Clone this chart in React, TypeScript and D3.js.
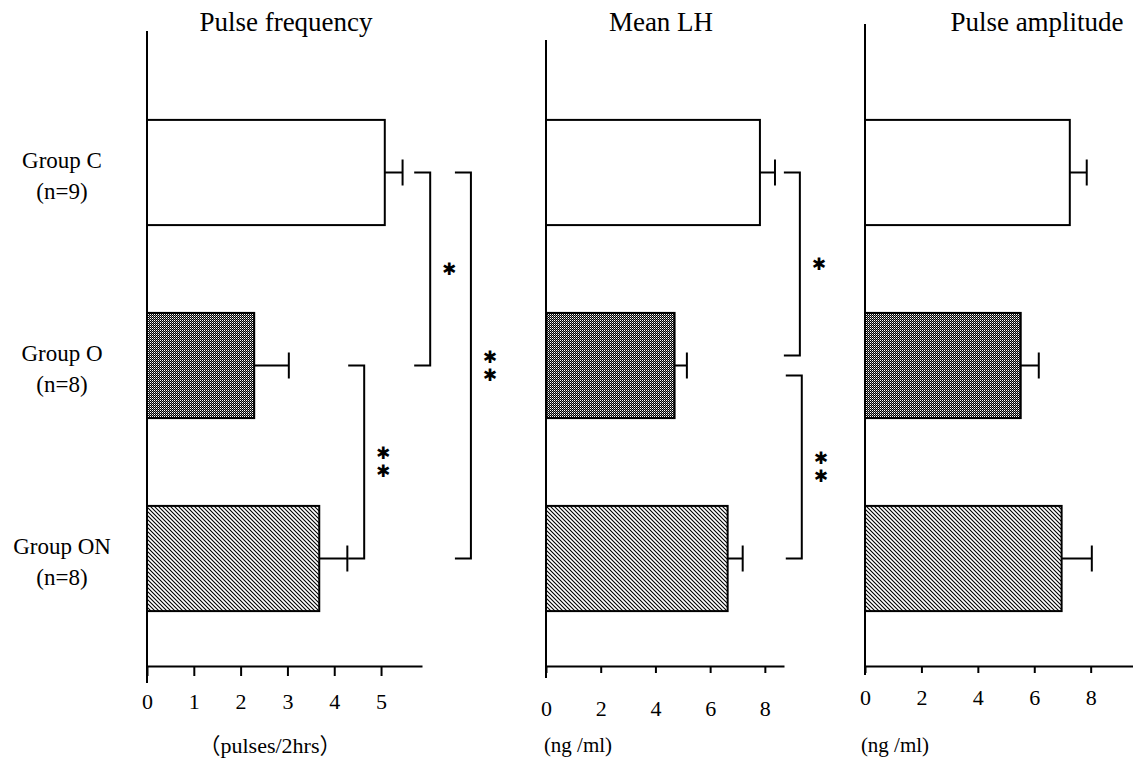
import React, { useRef, useEffect } from 'react';
import * as d3 from 'd3';

const groups = ['Group C', 'Group O', 'Group ON'];
const groupSizes = ['(n=9)', '(n=8)', '(n=8)'];

const freqMeans = [5.08, 2.29, 3.68];
const freqErrors = [0.38, 0.74, 0.6];
const lhMeans = [7.82, 4.7, 6.64];
const lhErrors = [0.55, 0.45, 0.55];
const ampMeans = [7.26, 5.52, 6.97];
const ampErrors = [0.6, 0.64, 1.07];

const freqTicks = [0, 1, 2, 3, 4, 5];
const lhTicks = [0, 2, 4, 6, 8];
const ampTicks = [0, 2, 4, 6, 8];

// significance brackets: from group, to group, x position (axis units), number of stars
const freqBrackets = [
    { from: 0, to: 1, at: 6.05, stars: 1 },
    { from: 1, to: 2, at: 4.64, stars: 2 },
    { from: 0, to: 2, at: 6.92, stars: 2 },
];
const lhBrackets = [
    { from: 0, to: 1, at: 9.28, stars: 1 },
    { from: 1, to: 2, at: 9.35, stars: 2 },
];
const ampBrackets = [];

const serif = '"Liberation Serif", "Times New Roman", "Noto Sans CJK JP", serif';

export default function App() {
    const svg_ref = useRef(null);

    useEffect(() => {
        const svg = d3.select(svg_ref.current);
        svg.selectAll('*').remove();

        const width = 1133;
        const height = 763;
        const axis_y = 666;

        svg.attr('width', width).attr('height', height);

        const defs = svg.append('defs');

        const dots = defs.append('pattern').attr('id', 'dots').attr('patternUnits', 'userSpaceOnUse').attr('width', 2).attr('height', 2);
        dots.append('rect').attr('width', 2).attr('height', 2).attr('fill', '#fff');
        dots.append('rect').attr('x', 1).attr('y', 0).attr('width', 1).attr('height', 1).attr('fill', '#000');
        dots.append('rect').attr('x', 0).attr('y', 1).attr('width', 1).attr('height', 1).attr('fill', '#000');
        dots.append('rect').attr('x', 1).attr('y', 1).attr('width', 1).attr('height', 1).attr('fill', '#808080');

        const hatch = defs.append('pattern').attr('id', 'hatch').attr('patternUnits', 'userSpaceOnUse').attr('width', 4).attr('height', 4);
        hatch.append('rect').attr('width', 4).attr('height', 4).attr('fill', '#fff');
        hatch.append('path').attr('d', 'M0,0L4,4M-1,3L1,5M3,-1L5,1').attr('stroke', '#000').attr('stroke-width', 1.1);

        const fills = ['#fff', 'url(#dots)', 'url(#hatch)'];

        const y = d3.scaleBand(groups, [62, 669]).paddingInner(0.455).paddingOuter(0.3);
        const center = (i) => y(groups[i]) + y.bandwidth() / 2;

        // group labels on the left
        const labels = svg.append('g').attr('font-family', serif).attr('font-size', 23).attr('text-anchor', 'middle');
        groups.forEach((g, i) => {
            const cy = center(i);
            labels.append('text').attr('x', 62).attr('y', cy - 12).attr('dominant-baseline', 'central').text(g);
            labels.append('text').attr('x', 62).attr('y', cy + 19).attr('dominant-baseline', 'central').text(groupSizes[i]);
        });

        const panels = [
            {
                title: 'Pulse frequency', titleX: 286, unit: '（pulses/2hrs）', unitX: 270, unitSize: 22,
                means: freqMeans, errors: freqErrors, ticks: freqTicks, brackets: freqBrackets,
                domain: [0, 5.875], range: [147, 422], axisTop: 31, axisBottom: 683,
                tickLen: 10, tickPad: 17,
            },
            {
                title: 'Mean LH', titleX: 661, unit: '(ng /ml)', unitX: 578, unitSize: 21,
                means: lhMeans, errors: lhErrors, ticks: lhTicks, brackets: lhBrackets,
                domain: [0, 8.7], range: [546, 784], axisTop: 40, axisBottom: 678,
                tickLen: 7, tickPad: 27,
            },
            {
                title: 'Pulse amplitude', titleX: 1037, unit: '(ng /ml)', unitX: 895, unitSize: 21,
                means: ampMeans, errors: ampErrors, ticks: ampTicks, brackets: ampBrackets,
                domain: [0, 9.5], range: [865, 1133], axisTop: 24, axisBottom: 675,
                tickLen: 7, tickPad: 16,
            },
        ];

        panels.forEach((p) => {
            const x = d3.scaleLinear(p.domain, p.range);
            const g = svg.append('g');

            g.append('text')
                .attr('x', p.titleX)
                .attr('y', 31)
                .attr('text-anchor', 'middle')
                .attr('font-family', serif)
                .attr('font-size', 27)
                .text(p.title);

            g.append('line')
                .attr('x1', x(0)).attr('x2', x(0))
                .attr('y1', p.axisTop).attr('y2', p.axisBottom)
                .attr('stroke', '#000').attr('stroke-width', 2);

            const axis = g.append('g')
                .attr('transform', `translate(0,${axis_y})`)
                .call(d3.axisBottom(x).tickValues(p.ticks).tickSizeInner(p.tickLen).tickSizeOuter(0).tickPadding(p.tickPad).tickFormat(d3.format('d')));
            axis.select('.domain').attr('stroke-width', 2);
            axis.selectAll('.tick line').attr('stroke-width', 2);
            axis.selectAll('.tick text').attr('font-family', serif).attr('font-size', 22).attr('fill', '#000');

            g.append('text')
                .attr('x', p.unitX)
                .attr('y', 745)
                .attr('text-anchor', 'middle')
                .attr('dominant-baseline', 'central')
                .attr('font-family', serif)
                .attr('font-size', p.unitSize)
                .text(p.unit);

            groups.forEach((grp, i) => {
                const top = y(grp);
                const cy = center(i);
                const m = p.means[i];
                const e = p.errors[i];
                g.append('line')
                    .attr('x1', x(m)).attr('x2', x(m + e))
                    .attr('y1', cy).attr('y2', cy)
                    .attr('stroke', '#000').attr('stroke-width', 2);
                g.append('line')
                    .attr('x1', x(m + e)).attr('x2', x(m + e))
                    .attr('y1', cy - 13).attr('y2', cy + 13)
                    .attr('stroke', '#000').attr('stroke-width', 2);
                g.append('rect')
                    .attr('x', x(0))
                    .attr('y', top)
                    .attr('width', x(m) - x(0))
                    .attr('height', y.bandwidth())
                    .attr('fill', fills[i])
                    .attr('stroke', '#000')
                    .attr('stroke-width', 2);
            });

            // brackets that meet at the same group and column are pulled apart a little
            const inset = (b, grpIdx) =>
                p.brackets.some((o) => o !== b && Math.abs(o.at - b.at) < 0.5 && (o.from === grpIdx || o.to === grpIdx)) ? 10 : 0;

            p.brackets.forEach((b) => {
                const bx = x(b.at);
                const y0 = center(b.from) + inset(b, b.from);
                const y1 = center(b.to) - inset(b, b.to);
                const arm = 16;
                g.append('path')
                    .attr('d', `M${bx - arm},${y0}H${bx}V${y1}H${bx - arm}`)
                    .attr('fill', 'none')
                    .attr('stroke', '#000')
                    .attr('stroke-width', 2);
                const mid = (y0 + y1) / 2;
                d3.range(b.stars).forEach((k) => {
                    g.append('text')
                        .attr('x', bx + 19)
                        .attr('y', mid + (k - (b.stars - 1) / 2) * 18)
                        .attr('text-anchor', 'middle')
                        .attr('dominant-baseline', 'central')
                        .attr('font-family', '"DejaVu Sans", sans-serif')
                        .attr('font-size', 17)
                        .attr('fill', '#000')
                        .text('✱');
                });
            });
        });
    }, []);

    return <svg ref={svg_ref} style={{ position: 'absolute', left: 0, top: 0, background: '#fff' }}></svg>;
}
